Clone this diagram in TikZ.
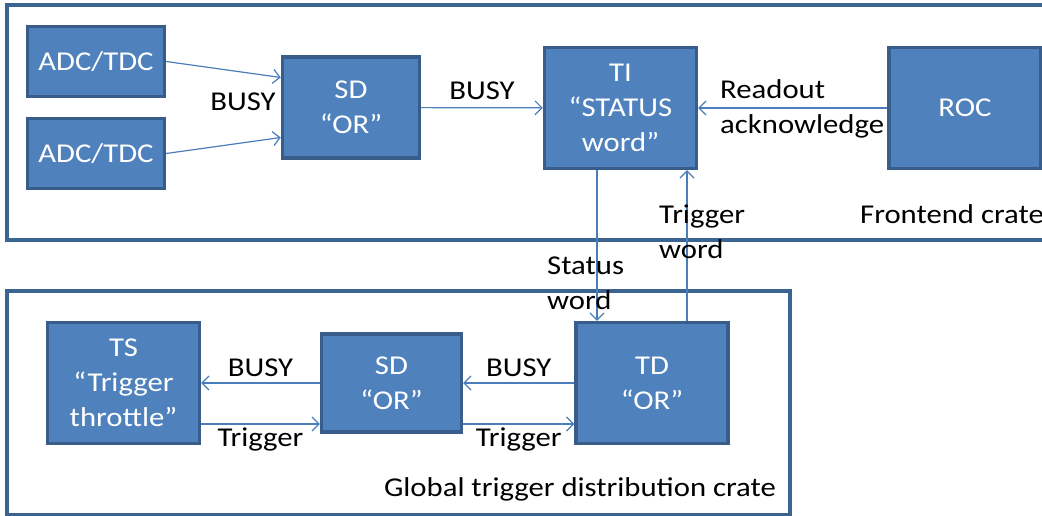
\documentclass[tikz,border=0pt]{standalone}
\usepackage{fontspec}
\setmainfont{Carlito}[FakeStretch=1.13]
\usepackage{tikz}
\usetikzlibrary{arrows.meta,positioning,calc}
\definecolor{boxfill}{HTML}{4F81BD}
\definecolor{boxline}{HTML}{385D8A}
\definecolor{wire}{HTML}{4A7EBB}
\definecolor{crateline}{HTML}{3C6491}
\tikzset{%
	block/.style   = {draw=boxline, fill=boxfill, line width=3.4pt, rectangle, text=white, align=center, inner sep=0pt}, % module
	crate/.style   = {draw=crateline, line width=3.2pt}, % crate outline
	label/.style   = {text=black, align=left, inner sep=0pt}, % text
	signal/.style  = {draw=wire, line width=1.2pt, -{Straight Barb[length=7pt,width=14pt,line width=1.2pt]}},
}

\begin{document}
\begin{tikzpicture}[x=1pt,y=-1pt,font=\fontsize{27.2}{35}\selectfont]
	\useasboundingbox (0,0) rectangle (1042,516);
	\begin{scope}
	\clip (0,0) rectangle (1042,516);
	\draw[crate] (7,5) rectangle (1070,240);
	\draw[crate] (7,291) rectangle (790,515);
	\end{scope}

	% frontend crate
	\node [block,minimum width=137pt,minimum height=70pt] (adc1) at (96,61.5) {ADC/TDC};
	\node [block,minimum width=137pt,minimum height=70pt] (adc2) at (96,153.5) {ADC/TDC};
	\node [block,minimum width=137pt,minimum height=101pt] (sdf) at (351,107.5) {SD\\“OR”};
	\node [block,minimum width=152pt,minimum height=121pt] (ti) at (620.5,108) {TI\\“STATUS\\word”};
	\node [block,minimum width=152pt,minimum height=121pt] (roc) at (965,108) {ROC};
	\node [label,anchor=center] (fe) at (952,214) {Frontend crate};

	% global trigger distribution crate
	\node [block,minimum width=152pt,minimum height=121pt] (ts) at (123.5,383) {TS\\“Trigger\\throttle”};
	\node [block,minimum width=140pt,minimum height=98pt] (sdg) at (391.5,383) {SD\\“OR”};
	\node [block,minimum width=152pt,minimum height=121pt] (td) at (652,383) {TD\\“OR”};
	\node [label,anchor=center] (gt) at (580,489) {Global trigger distribution crate};

	\draw[signal] (adc1.east) -- ([yshift=30pt]sdf.west);
	\draw[signal] (adc2.east) -- ([yshift=-30pt]sdf.west);
	\node [label] at (243,102) {BUSY};
	\draw[signal] (sdf) -- node[label,above=7pt] {BUSY} (ti);
	\draw[signal] (roc) -- (ti);
	\node [label,anchor=west] at (720,109) {Readout\\acknowledge};

	\draw[signal] ([xshift=-23.5pt]ti.south) -- ([xshift=-55pt]td.north);
	\node [label,anchor=west] at (547,283) {Status\\word};
	\draw[signal] ([xshift=35pt]td.north) -- ([xshift=66.5pt]ti.south);
	\node [label,anchor=west] at (659,232) {Trigger\\word};

	\draw[signal] (sdg) -- node[label,above=6pt] {BUSY} (ts);
	\draw[signal] (td) -- node[label,above=6pt] {BUSY} (sdg);
	\draw[signal] ([yshift=-41pt]ts.east) -- node[label,below=3pt] {Trigger} ([yshift=-41pt]sdg.west);
	\draw[signal] ([yshift=-41pt]sdg.east) -- node[label,below=3pt] {Trigger} ([yshift=-41pt]td.west);
\end{tikzpicture}
\end{document}
